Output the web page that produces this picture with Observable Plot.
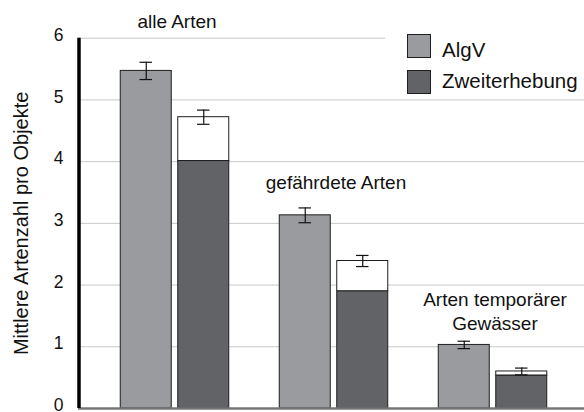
<!DOCTYPE html>
<html><head><meta charset="utf-8">
<script src="https://cdn.jsdelivr.net/npm/d3@7"></script>
<script src="https://cdn.jsdelivr.net/npm/@observablehq/plot@0.6"></script>
<style>
body{margin:0;background:#fff;font-family:"Liberation Sans",Arial,sans-serif;}
#wrap{position:relative;width:584px;height:412px;overflow:hidden;}
.legend{position:absolute;left:385px;top:26px;width:199px;height:68px;background:#fff;}
.sw{position:absolute;left:407px;width:24px;height:24px;box-sizing:border-box;border:1px solid #1e1e1e;}
.lt{position:absolute;left:442px;font-size:20.5px;line-height:20.5px;color:#111;white-space:nowrap;}
</style></head><body><div id="wrap"></div>
<script>
const groups = ["alle Arten", "gefährdete Arten", "Arten temporärer\nGewässer"];
const series = ["AlgV", "Zweiterhebung"];
const algvMean = [5.47, 3.13, 1.03];
const algvErr = [0.14, 0.12, 0.06];
const zweitMean = [4.72, 2.39, 0.60];
const zweitErr = [0.115, 0.09, 0.055];
const zweitDark = [4.01, 1.90, 0.535];
const yTicks = [0, 1, 2, 3, 4, 5, 6];
const yLabel = "Mittlere Artenzahl pro Objekte";

const colors = {"AlgV": "#9a9b9f", "Zweiterhebung": "#626366"};

const algvRows = groups.map((g, i) => ({group: g, value: algvMean[i], lo: algvMean[i] - algvErr[i], hi: algvMean[i] + algvErr[i]}));
const zweitRows = groups.map((g, i) => ({group: g, value: zweitMean[i], dark: zweitDark[i], lo: zweitMean[i] - zweitErr[i], hi: zweitMean[i] + zweitErr[i]}));

// layout
const W = 584, H = 412, ML = 78;
const xRange = [94.25, 572.75];
const band = (xRange[1] - xRange[0]) / groups.length;
const barW = 51.5, gap = 6;
const outer = (band - 2 * barW - gap) / 2;
const shift = (gap + barW) / 2; // center offset of each bar from band center
const capW = 13;
const capInset = (band - capW) / 2;
const labelLevel = [6.17, 3.56, 1.264];
const axisDx = ML - (xRange[0] + band / 2);

const chart = Plot.plot({
  width: W, height: H,
  marginLeft: ML, marginRight: 0, marginTop: 37.7, marginBottom: 4,
  style: {fontFamily: "'Liberation Sans', Arial, sans-serif", color: "#111", background: "#fff"},
  x: {domain: groups, range: xRange, padding: 0, axis: null},
  y: {domain: [0, 6], axis: null},
  marks: [
    Plot.gridY(yTicks, {stroke: "#c8c8c8", strokeOpacity: 1, strokeWidth: 1}),
    Plot.barY(algvRows, {x: "group", y: "value", fill: colors["AlgV"], stroke: "#1e1e1e", strokeWidth: 1, insetLeft: outer, insetRight: band - outer - barW}),
    Plot.barY(zweitRows, {x: "group", y1: 0, y2: "dark", fill: colors["Zweiterhebung"], stroke: "#1e1e1e", strokeWidth: 1, insetLeft: band - outer - barW, insetRight: outer}),
    Plot.barY(zweitRows, {x: "group", y1: "dark", y2: "value", fill: "#fff", stroke: "#1e1e1e", strokeWidth: 1, insetLeft: band - outer - barW, insetRight: outer}),
    Plot.ruleX(algvRows, {x: "group", y1: "lo", y2: "hi", dx: -shift, stroke: "#111", strokeWidth: 1.2}),
    Plot.tickY(algvRows, {x: "group", y: "hi", dx: -shift, insetLeft: capInset, insetRight: capInset, stroke: "#111", strokeWidth: 1.2}),
    Plot.tickY(algvRows, {x: "group", y: "lo", dx: -shift, insetLeft: capInset, insetRight: capInset, stroke: "#111", strokeWidth: 1.2}),
    Plot.ruleX(zweitRows, {x: "group", y1: "lo", y2: "hi", dx: shift, stroke: "#111", strokeWidth: 1.2}),
    Plot.tickY(zweitRows, {x: "group", y: "hi", dx: shift, insetLeft: capInset, insetRight: capInset, stroke: "#111", strokeWidth: 1.2}),
    Plot.tickY(zweitRows, {x: "group", y: "lo", dx: shift, insetLeft: capInset, insetRight: capInset, stroke: "#111", strokeWidth: 1.2}),
    Plot.ruleY([0], {stroke: "#777", strokeWidth: 2.5}),
    Plot.ruleX([groups[0]], {x: d => d, y1: 0, y2: 6, dx: axisDx, stroke: "#000", strokeWidth: 3.5}),
    Plot.axisY(yTicks, {tickSize: 0, tickPadding: 15, fontSize: 17.5, label: null, tickFormat: d3.format("d"), dy: -3}),
    Plot.text(groups, {x: d => d, y: (d, i) => labelLevel[i], text: d => d, lineAnchor: "bottom", lineHeight: 1.3, fontSize: 19, dx: 2, fill: "#111"}),
    Plot.text([yLabel], {frameAnchor: "left", textAnchor: "middle", rotate: -90, dx: -57, text: d => d, fontSize: 20, fill: "#111"})
  ]
});

const wrap = document.getElementById("wrap");
wrap.appendChild(chart);
const leg = document.createElement("div");
leg.className = "legend";
wrap.appendChild(leg);
const swTops = [34, 69.5];
const txtTops = [39.5, 71];
series.forEach((s, i) => {
  const sw = document.createElement("div");
  sw.className = "sw"; sw.style.top = swTops[i] + "px"; sw.style.background = colors[s];
  wrap.appendChild(sw);
  const t = document.createElement("div");
  t.className = "lt"; t.style.top = txtTops[i] + "px"; t.textContent = s;
  wrap.appendChild(t);
});
</script></body></html>
